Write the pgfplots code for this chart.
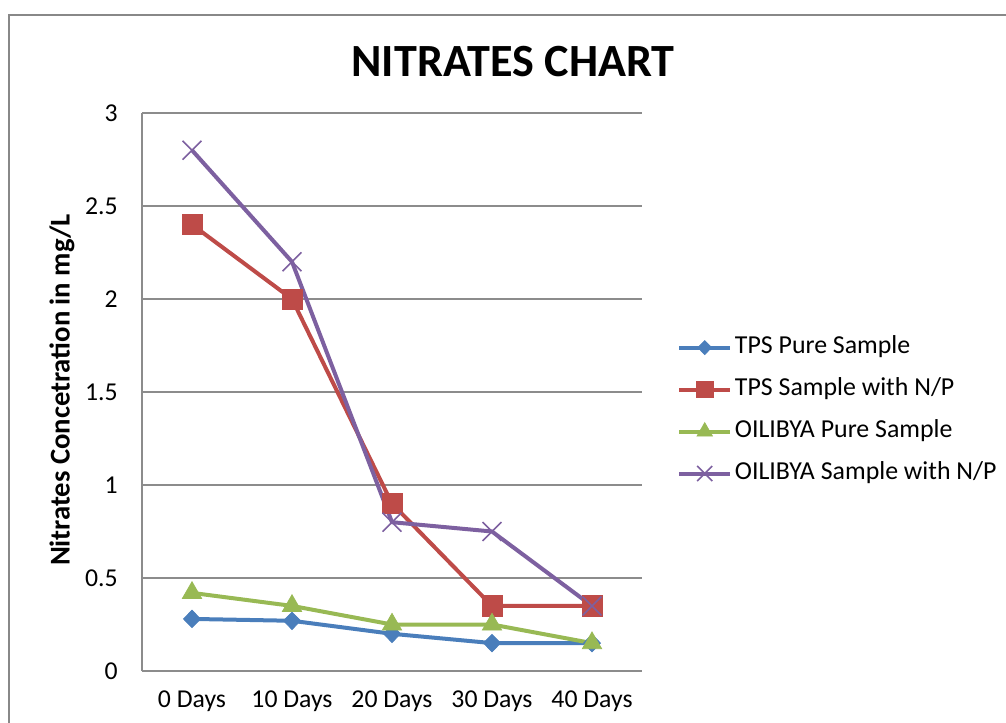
\documentclass[border=0pt]{standalone}
\usepackage{fontspec}
\setmainfont{Carlito}
\usepackage{pgfplots}
\pgfplotsset{compat=1.18}
\definecolor{cBlue}{HTML}{4A7EBB}
\definecolor{cRed}{HTML}{BE4B48}
\definecolor{cGreen}{HTML}{98B954}
\definecolor{cPurple}{HTML}{7D60A0}
\definecolor{gridgray}{HTML}{8C8C8C}
\definecolor{framegray}{HTML}{888888}
\begin{document}
\begin{tikzpicture}
\useasboundingbox (-106.5pt,-38.25pt) rectangle (648pt,503.25pt);
\draw[line width=1.9pt, color=framegray] (-99.75pt,-60pt) -- (-99.75pt,492pt) -- (700pt,492pt);
\begin{axis}[
  at={(0,0)}, anchor=south west,
  scale only axis, width=375pt, height=418.5pt,
  xmin=-0.5, xmax=4.5, ymin=0, ymax=3,
  xtick={0,1,2,3,4},
  xticklabels={0 Days,10 Days,20 Days,30 Days,40 Days},
  ytick={0,0.5,1,1.5,2,2.5,3},
  yticklabels={0,0.5,1,1.5,2,2.5,3},
  axis x line*=bottom, axis y line*=left,
  axis line style={gridgray, line width=0.9pt, -},
  major tick length=0pt,
  ymajorgrids, grid style={gridgray, line width=0.9pt},
  tick label style={font=\fontsize{19.3}{23}\selectfont, inner sep=0pt},
  yticklabel style={anchor=east, xshift=-18pt},
  xticklabel style={anchor=north, yshift=-15pt},
  clip=false,
  legend style={at={(1.07,0.601)}, anchor=north west, draw=none, fill=none,
    inner sep=0pt, row sep=14pt,
    font=\fontsize{19.4}{23}\selectfont,
    nodes={inner ysep=0pt, inner xsep=2pt, text height=13.5pt, text depth=4pt}},
  legend cell align=left,
  legend image code/.code={\draw[mark repeat=2,mark phase=2,every mark/.append style={scale=0.8}]
     plot coordinates {(0pt,0pt)(19.1pt,0pt)(38.25pt,0pt)};},
]
\addplot[cBlue, line width=3pt, mark=diamond*, mark size=6.6pt, mark options={solid, xscale=1.3, fill=cBlue, draw=cBlue, line width=0.5pt}]
  coordinates {(0,0.28) (1,0.27) (2,0.20) (3,0.15) (4,0.15)};
\addlegendentry{TPS Pure Sample}
\addplot[cRed, line width=3pt, mark=square*, mark size=7.6pt, mark options={solid, fill=cRed, draw=cRed, line width=0.5pt}]
  coordinates {(0,2.4) (1,2.0) (2,0.9) (3,0.35) (4,0.35)};
\addlegendentry{TPS Sample with N/P}
\addplot[cGreen, line width=3pt, mark=triangle*, mark size=8.4pt, mark options={solid, fill=cGreen, draw=cGreen, line width=0.5pt}]
  coordinates {(0,0.42) (1,0.35) (2,0.25) (3,0.25) (4,0.15)};
\addlegendentry{OILIBYA Pure Sample}
\addplot[cPurple, line width=3pt, mark=x, mark size=10pt, mark options={solid, draw=cPurple, line width=1.2pt}]
  coordinates {(0,2.8) (1,2.2) (2,0.8) (3,0.75) (4,0.35)};
\addlegendentry{OILIBYA Sample with N/P}
\end{axis}
\node[anchor=base, font=\fontsize{34.6}{40}\selectfont\bfseries] at (278.25pt,445.5pt) {NITRATES CHART};
\node[rotate=90, font=\fontsize{21.5}{25}\selectfont\bfseries] at (-60pt,210.75pt) {Nitrates Concetration in mg/L};
\end{tikzpicture}
\end{document}
